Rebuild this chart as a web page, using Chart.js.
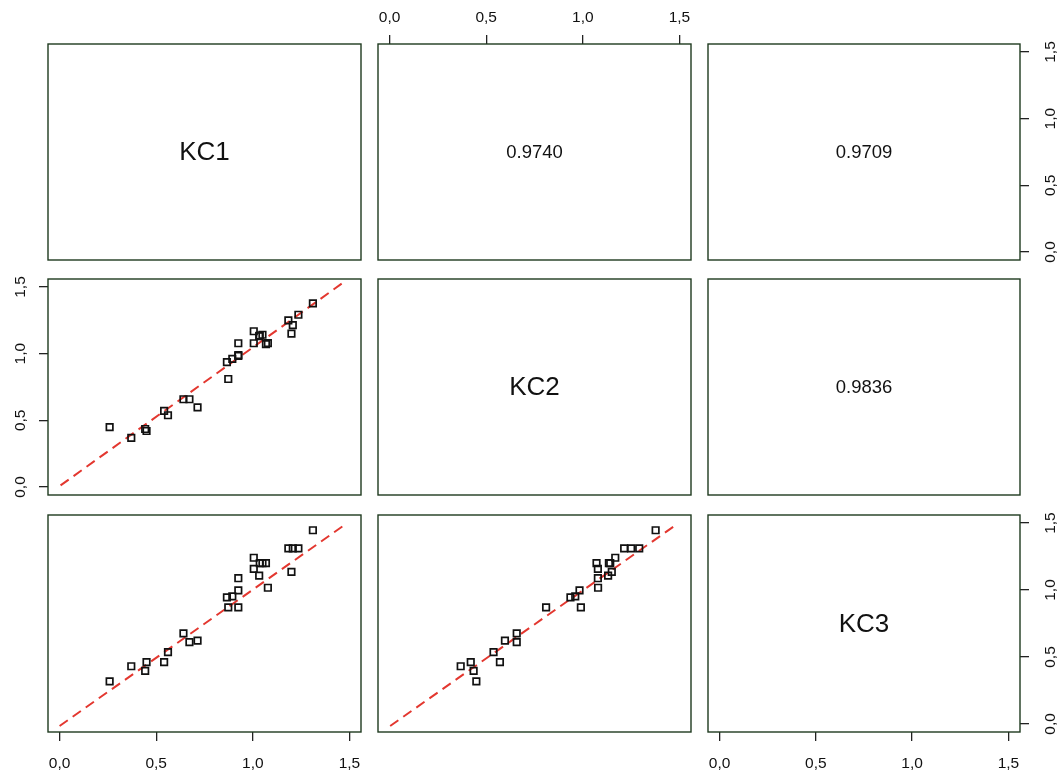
<!DOCTYPE html>
<html>
<head>
<meta charset="utf-8">
<title>pairs KC1 KC2 KC3</title>
<script src="https://cdn.jsdelivr.net/npm/chart.js@4.4.0/dist/chart.umd.min.js"></script>
<style>
  body { margin: 0; background: #fff; }
  #wrap { position: relative; width: 1062px; height: 773px; }
  #wrap canvas { position: absolute; left: 0; top: 0; }
</style>
</head>
<body>
<div id="wrap"></div>
<script>
// ---------------- data ----------------
const varNames = ["KC1", "KC2", "KC3"];
const KC1 = [0.259, 0.371, 0.443, 0.450, 0.541, 0.561, 0.641, 0.672, 0.714, 0.866, 0.873, 0.894, 0.925, 0.925,
             0.925, 1.005, 1.005, 1.036, 1.050, 1.068, 1.033, 1.078, 1.184, 1.207, 1.236, 1.200, 1.311];
const KC2 = [0.449, 0.368, 0.435, 0.420, 0.571, 0.538, 0.658, 0.658, 0.597, 0.936, 0.810, 0.961, 0.983, 0.990,
             1.078, 1.168, 1.078, 1.135, 1.142, 1.071, 1.131, 1.079, 1.250, 1.214, 1.292, 1.150, 1.377];
const KC3 = [0.318, 0.431, 0.396, 0.461, 0.461, 0.536, 0.677, 0.611, 0.622, 0.945, 0.870, 0.953, 0.998, 0.870,
             1.088, 1.241, 1.158, 1.201, 1.201, 1.201, 1.108, 1.017, 1.311, 1.311, 1.311, 1.135, 1.446];
const vars = [KC1, KC2, KC3];

// correlations printed in the upper panels
const corKC1KC2 = "0.9740";
const corKC1KC3 = "0.9709";
const corKC2KC3 = "0.9836";

// dashed red fit lines (end points) for the lower panels
const fitKC2onKC1X = [0.005, 1.46],  fitKC2onKC1Y = [0.012, 1.525];
const fitKC3onKC1X = [0.0, 1.478],   fitKC3onKC1Y = [-0.015, 1.489];
const fitKC3onKC2X = [0.003, 1.485], fitKC3onKC2Y = [-0.015, 1.489];

const axisMin = -0.06, axisMax = 1.56;
const tickValues = [0, 0.5, 1, 1.5];

// ---------------- layout ----------------
const W = 1062, H = 773, AX = 42;
const colLeft = [48, 378, 708], colRight = [361, 691, 1020];
const rowTop = [44, 279, 515], rowBottom = [260, 495, 732];
const frameColor = "#1f3a1f";
const tickColor = "#222";

Chart.defaults.font.family = "'Liberation Sans', Arial, sans-serif";
Chart.defaults.color = "#111";

const fmt = (v) => v.toFixed(1).replace(".", ",");

const panelPlugin = {
  id: "panel",
  afterDraw(chart) {
    const { ctx, chartArea: a } = chart;
    const o = chart.options.plugins.panel;
    ctx.save();
    ctx.strokeStyle = frameColor;
    ctx.lineWidth = 1.4;
    ctx.strokeRect(a.left, a.top, a.right - a.left, a.bottom - a.top);
    if (o.text) {
      ctx.fillStyle = "#111";
      ctx.font = o.size + "px 'Liberation Sans', Arial, sans-serif";
      ctx.textAlign = "center";
      ctx.textBaseline = "middle";
      ctx.fillText(o.text, (a.left + a.right) / 2, (a.top + a.bottom) / 2 + 1);
    }
    ctx.restore();
  }
};

function axisX(show, position) {
  return {
    type: "linear", min: axisMin, max: axisMax, display: show, position,
    afterBuildTicks: (s) => { s.ticks = tickValues.map((v) => ({ value: v })); },
    afterFit: (s) => { if (show) s.height = AX; },
    grid: { drawOnChartArea: false, drawTicks: true, tickLength: 9, color: tickColor, lineWidth: 1.3 },
    border: { display: false },
    ticks: { callback: fmt, padding: position === "top" ? 8 : 13, maxRotation: 0, font: { size: 15.5 }, color: "#111" }
  };
}

function axisY(show, position) {
  return {
    type: "linear", min: axisMin, max: axisMax, display: show, position,
    afterBuildTicks: (s) => { s.ticks = tickValues.map((v) => ({ value: v })); },
    afterFit: (s) => { if (show) s.width = AX; },
    grid: { drawOnChartArea: false, drawTicks: true, tickLength: 9, color: tickColor, lineWidth: 1.3 },
    border: { display: false },
    ticks: {
      callback: fmt, padding: position === "left" ? 8 : 11, minRotation: 90, maxRotation: 90,
      crossAlign: "center", font: { size: 15.5 }, color: "#111"
    }
  };
}

const fits = {
  "1,0": [fitKC2onKC1X, fitKC2onKC1Y],
  "2,0": [fitKC3onKC1X, fitKC3onKC1Y],
  "2,1": [fitKC3onKC2X, fitKC3onKC2Y]
};
const cors = { "0,1": corKC1KC2, "0,2": corKC1KC3, "1,2": corKC2KC3 };

const wrap = document.getElementById("wrap");

for (let i = 0; i < 3; i++) {
  for (let j = 0; j < 3; j++) {
    const hasBottom = i === 2 && j !== 1;
    const hasTop = i === 0 && j === 1;
    const hasLeft = i === 1 && j === 0;
    const hasRight = j === 2 && i !== 1;

    const canvas = document.createElement("canvas");
    canvas.width = W; canvas.height = H;
    canvas.style.width = W + "px"; canvas.style.height = H + "px";
    wrap.appendChild(canvas);

    const datasets = [];
    let text = null, size = 18;
    if (i > j) {
      const xs = vars[j], ys = vars[i];
      datasets.push({
        type: "scatter",
        data: xs.map((v, k) => ({ x: v, y: ys[k] })),
        pointStyle: "rect", pointRadius: 4.6, pointBorderWidth: 1.7,
        borderColor: "#111", backgroundColor: "rgba(0,0,0,0)"
      });
      const [fx, fy] = fits[i + "," + j];
      datasets.push({
        type: "line",
        data: fx.map((v, k) => ({ x: v, y: fy[k] })),
        borderColor: "#e3372f", borderWidth: 2, borderDash: [10, 6],
        pointRadius: 0, fill: false, tension: 0
      });
    } else if (i === j) {
      text = varNames[i]; size = 26;
    } else {
      text = cors[i + "," + j]; size = 18.5;
    }

    new Chart(canvas, {
      type: "scatter",
      data: { datasets },
      options: {
        responsive: false,
        animation: false,
        layout: {
          autoPadding: false,
          padding: {
            left: colLeft[j] - (hasLeft ? AX : 0),
            right: W - colRight[j] - (hasRight ? AX : 0),
            top: rowTop[i] - (hasTop ? AX : 0),
            bottom: H - rowBottom[i] - (hasBottom ? AX : 0)
          }
        },
        scales: {
          x: axisX(hasBottom || hasTop, hasTop ? "top" : "bottom"),
          y: axisY(hasLeft || hasRight, hasRight ? "right" : "left")
        },
        plugins: {
          legend: { display: false },
          tooltip: { enabled: false },
          panel: { text, size }
        }
      },
      plugins: [panelPlugin]
    });
  }
}
</script>
</body>
</html>
